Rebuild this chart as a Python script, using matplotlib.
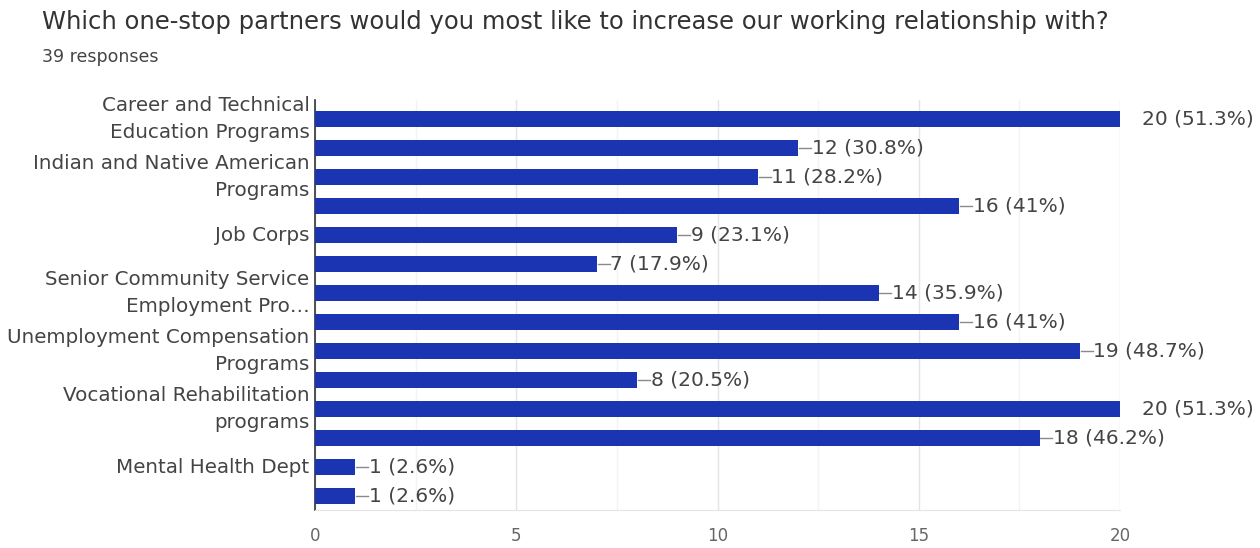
import matplotlib.pyplot as plt
from matplotlib.ticker import MultipleLocator

plt.rcParams['font.family'] = ['DejaVu Sans']

title = "Which one-stop partners would you most like to increase our working relationship with?"
subtitle = "39 responses"

# only every other category label is shown in the reference
labels = [
    "Career and Technical\nEducation Programs", "",
    "Indian and Native American\nPrograms", "",
    "Job Corps", "",
    "Senior Community Service\nEmployment Pro\u2026", "",
    "Unemployment Compensation\nPrograms", "",
    "Vocational Rehabilitation\nprograms", "",
    "Mental Health Dept", "",
]
counts = [20, 12, 11, 16, 9, 7, 14, 16, 19, 8, 20, 18, 1, 1]
pcts = ["51.3%", "30.8%", "28.2%", "41%", "23.1%", "17.9%", "35.9%",
        "41%", "48.7%", "20.5%", "51.3%", "46.2%", "2.6%", "2.6%"]
xticks = [0, 5, 10, 15, 20]

bar_color = "#1b35b2"
text_color = "#444444"

fig = plt.figure(figsize=(12.6, 5.48), dpi=100)
ax = fig.add_axes([0.25, 0.0693, 0.6389, 0.7482])

ypos = list(range(len(counts)))
ax.barh(ypos, counts, height=0.56, color=bar_color, zorder=3)

xmax = 20
for y, c, p in zip(ypos, counts, pcts):
    if c < xmax:
        ax.plot([c + 0.02, c + 0.32], [y, y], color="#8a8a8a", lw=1, zorder=2)
        ax.text(c + 0.34, y, f"{c} ({p})", va="center", ha="left",
                fontsize=14.5, color=text_color)
    else:
        ax.text(c + 0.55, y, f"{c} ({p})", va="center", ha="left",
                fontsize=14.5, color=text_color, clip_on=False)

ax.set_xlim(0, xmax)
ax.set_ylim(13.48, -0.655)
ax.set_yticks(ypos)
ax.set_yticklabels(labels, fontsize=14.3, color=text_color, linespacing=1.55,
                   va="center")
ax.set_xticks(xticks)
ax.xaxis.set_minor_locator(MultipleLocator(2.5))
ax.tick_params(axis="x", which="both", length=0, labelsize=12,
               labelcolor="#666666", pad=12)
ax.tick_params(axis="y", length=0, pad=4)
ax.grid(axis="x", which="major", color="#e4e4e4", lw=1, zorder=0)
ax.grid(axis="x", which="minor", color="#f3f3f3", lw=1, zorder=0)
for s in ["top", "right"]:
    ax.spines[s].set_visible(False)
ax.spines["bottom"].set_color("#e4e4e4")
ax.spines["left"].set_color("#333333")
ax.spines["left"].set_linewidth(1.2)

fig.text(42 / 1260, 1 - 22 / 548, title, fontsize=17.5, color="#333333",
         ha="left", va="center")
fig.text(42 / 1260, 1 - 57 / 548, subtitle, fontsize=12.5, color="#444444",
         ha="left", va="center")

fig.savefig("out.png", dpi=100)
